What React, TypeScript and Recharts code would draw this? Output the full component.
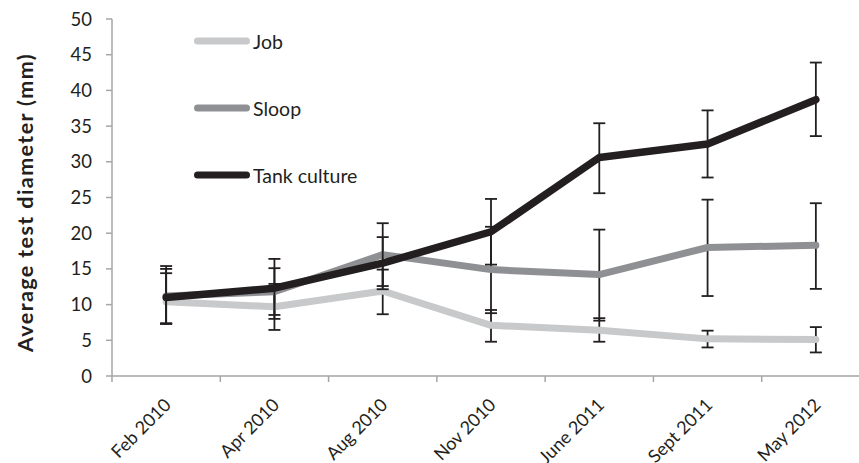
import React from "react"
import { LineChart, Line, XAxis, YAxis, ErrorBar, Legend } from "recharts"

// months sampled
const months = ["Feb 2010", "Apr 2010", "Aug 2010", "Nov 2010", "June 2011", "Sept 2011", "May 2012"]

// mean test diameter (mm)
const jobMean = [10.4, 9.7, 11.9, 7.1, 6.4, 5.2, 5.1]
const sloopMean = [11.2, 11.8, 17.0, 14.9, 14.2, 18.0, 18.3]
const tankMean = [11.0, 12.3, 15.8, 20.2, 30.6, 32.5, 38.7]

// error bars as [minus, plus]
const jobErr = [[3.1, 4.0], [3.25, 3.2], [3.25, 3.0], [2.3, 2.15], [1.6, 1.7], [1.2, 1.15], [1.8, 1.75]]
const sloopErr = [[3.8, 3.8], [3.25, 3.3], [4.4, 4.4], [6.1, 6.0], [6.45, 6.3], [6.8, 6.7], [6.1, 5.9]]
const tankErr = [[3.7, 4.4], [4.3, 4.1], [3.65, 3.65], [4.6, 4.6], [5.0, 4.8], [4.7, 4.7], [5.1, 5.2]]

const yTicks = [0, 5, 10, 15, 20, 25, 30, 35, 40, 45, 50]

const data = months.map((m, i) => ({
  month: m,
  job: jobMean[i],
  jobErr: jobErr[i],
  sloop: sloopMean[i],
  sloopErr: sloopErr[i],
  tank: tankMean[i],
  tankErr: tankErr[i],
}))

const FONT = "Lato, 'Open Sans', sans-serif"
const AXIS = "#a6a6a6"
const INK = "#231f20"

function XTick(props: any) {
  const { x, y, payload, width, visibleTicksCount, index } = props
  const step = width / visibleTicksCount
  return (
    <g>
      <line x1={x - step / 2} y1={y} x2={x - step / 2} y2={y + 6} stroke={AXIS} strokeWidth={1.5} />
      {index === visibleTicksCount - 1 && (
        <line x1={x + step / 2} y1={y} x2={x + step / 2} y2={y + 6} stroke={AXIS} strokeWidth={1.5} />
      )}
      <text
        x={x + 6}
        y={y + 30}
        textAnchor="end"
        transform={`rotate(-45, ${x + 6}, ${y + 30})`}
        fontFamily={FONT}
        fontSize={18}
        fill={INK}
      >
        {payload.value}
      </text>
    </g>
  )
}

function YTitle(props: any) {
  const { viewBox } = props
  const cx = viewBox.x + 25
  const cy = viewBox.y + viewBox.height / 2 + 5
  return (
    <text
      x={cx}
      y={cy}
      textAnchor="middle"
      dominantBaseline="central"
      transform={`rotate(-90, ${cx}, ${cy})`}
      fontFamily={FONT}
      fontWeight="bold"
      fontSize={21.5}
      letterSpacing={1.4}
      fill={INK}
    >
      Average test diameter (mm)
    </text>
  )
}

function LegendBox(props: any) {
  const { payload } = props
  return (
    <div>
      {payload.map((item: any) => (
        <div key={item.value} style={{ display: "flex", alignItems: "center", height: 20, marginBottom: 47 }}>
          <svg width={62} height={10}>
            <line x1={6.5} y1={5} x2={55.5} y2={5} stroke={item.color} strokeWidth={7} strokeLinecap="round" />
          </svg>
          <span style={{ fontFamily: FONT, fontSize: 19.5, color: INK }}>{item.value}</span>
        </div>
      ))}
    </div>
  )
}

export default function App() {
  return (
    <div style={{ position: "absolute", left: 0, top: 0, width: 859, height: 463, overflow: "hidden", background: "#fff" }}>
      <LineChart width={880} height={463} data={data} margin={{ top: 19, right: 10, left: 0, bottom: 0 }}>
        <XAxis
          dataKey="month"
          scale="band"
          height={87}
          stroke={AXIS}
          strokeWidth={1.5}
          tickLine={false}
          tickSize={0}
          tickMargin={0}
          interval={0}
          tick={<XTick />}
        />
        <YAxis
          width={112}
          domain={[0, 50]}
          ticks={yTicks}
          interval={0}
          stroke={AXIS}
          strokeWidth={1.5}
          tickSize={6}
          tickMargin={14}
          tick={{ fill: INK, fontFamily: FONT, fontSize: 18.5 }}
          label={<YTitle />}
        />
        <Legend
          layout="vertical"
          align="center"
          verticalAlign="middle"
          content={<LegendBox />}
          wrapperStyle={{ left: 191, top: 31, width: 220 }}
        />
        <Line
          dataKey="job"
          name="Job"
          stroke="#c8c9cb"
          strokeWidth={7}
          strokeLinecap="round"
          strokeLinejoin="round"
          dot={false}
          isAnimationActive={false}
        >
          <ErrorBar dataKey="jobErr" direction="y" width={6} stroke={INK} strokeWidth={1.8} />
        </Line>
        <Line
          dataKey="sloop"
          name="Sloop"
          stroke="#8f9093"
          strokeWidth={7}
          strokeLinecap="round"
          strokeLinejoin="round"
          dot={false}
          isAnimationActive={false}
        >
          <ErrorBar dataKey="sloopErr" direction="y" width={6} stroke={INK} strokeWidth={1.8} />
        </Line>
        <Line
          dataKey="tank"
          name="Tank culture"
          stroke={INK}
          strokeWidth={7.5}
          strokeLinecap="round"
          strokeLinejoin="round"
          dot={false}
          isAnimationActive={false}
        >
          <ErrorBar dataKey="tankErr" direction="y" width={6} stroke={INK} strokeWidth={1.8} />
        </Line>
      </LineChart>
    </div>
  )
}
